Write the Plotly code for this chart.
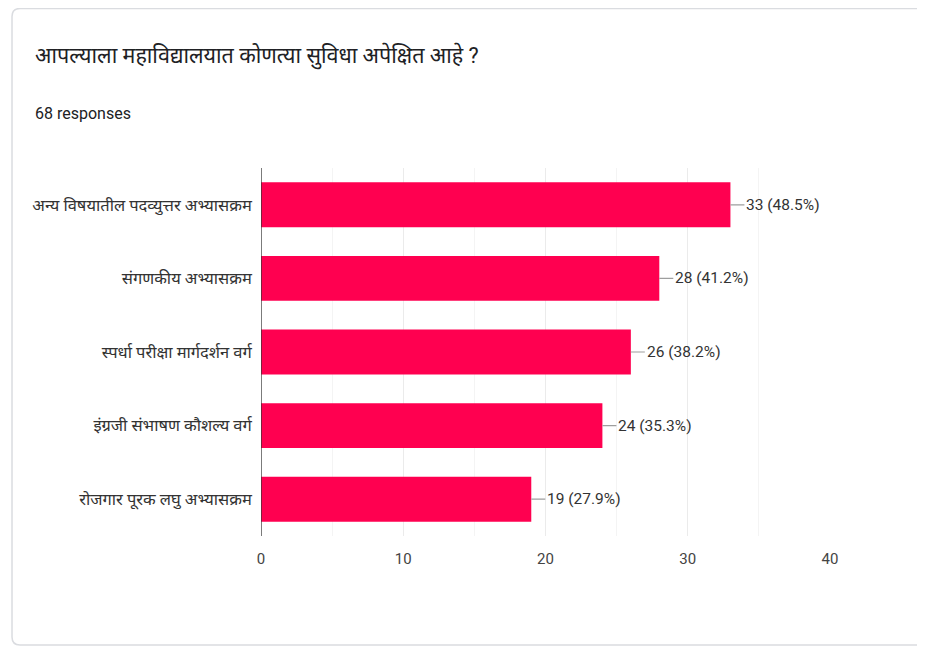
import plotly.graph_objects as go

categories = [
    "अन्य विषयातील पदव्युत्तर अभ्यासक्रम",
    "संगणकीय अभ्यासक्रम",
    "स्पर्धा परीक्षा मार्गदर्शन वर्ग",
    "इंग्रजी संभाषण कौशल्य वर्ग",
    "रोजगार पूरक लघु अभ्यासक्रम",
]
counts = [33, 28, 26, 24, 19]
percents = ["48.5%", "41.2%", "38.2%", "35.3%", "27.9%"]
x_ticks = [0, 10, 20, 30, 40]

title_text = "आपल्याला महाविद्यालयात कोणत्या सुविधा अपेक्षित आहे ?"
subtitle_text = "68 responses"

FONT = "Roboto, Noto Sans, sans-serif"
BAR = "#ff0050"

fig = go.Figure()
fig.add_trace(go.Bar(
    x=counts, y=categories, orientation="h",
    marker=dict(color=BAR, line=dict(width=0)),
    width=0.61, hoverinfo="skip",
))

for c, v, p in zip(categories, counts, percents):
    fig.add_annotation(
        x=v, y=c, xref="x", yref="y",
        text=f"{v} ({p})", showarrow=True, arrowhead=0, arrowwidth=1.2,
        arrowcolor="#9e9e9e", ax=14, ay=0, xanchor="left", yanchor="middle",
        font=dict(family=FONT, size=15.5, color="#333333"),
    )

fig.add_annotation(x=0, y=1, xref="paper", yref="paper", text=title_text, showarrow=False,
                   xanchor="left", yanchor="middle", xshift=-228, yshift=112,
                   font=dict(family=FONT, size=21.5, color="#202124"))
fig.add_annotation(x=0, y=1, xref="paper", yref="paper", text=subtitle_text, showarrow=False,
                   xanchor="left", yanchor="middle", xshift=-228, yshift=55,
                   font=dict(family=FONT, size=16, color="#202124"))

fig.update_layout(
    width=917, height=640,
    margin=dict(l=253, r=95, t=160, b=112),
    paper_bgcolor="white", plot_bgcolor="white",
    showlegend=False,
    font=dict(family=FONT, size=15, color="#444444"),
    xaxis=dict(range=[0, 40], tickvals=x_ticks, showgrid=True, gridcolor="#ebebeb",
               minor=dict(dtick=5, showgrid=True, gridcolor="#f4f4f4"),
               zeroline=False, showline=False, ticks="", ticklabelstandoff=12,
               tickfont=dict(family=FONT, size=15, color="#444444"), fixedrange=True),
    yaxis=dict(categoryorder="array", categoryarray=categories[::-1],
               showgrid=False, zeroline=False, showline=False, ticks="",
               ticksuffix="  ", tickfont=dict(family=FONT, size=16.5, color="#333333")),
)

# y axis line at x=0
fig.add_shape(type="line", xref="x", yref="paper", x0=0, x1=0, y0=0, y1=1,
              line=dict(color="#333333", width=1.3))

# card outline (rounded corners on the left)
x0, xr = -0.4376, 1.18
yt, yb = 1.4334, -0.2962
dx, dy = 8 / 569, 8 / 368
card_path = (f"M {xr},{yt} L {x0 + dx},{yt} Q {x0},{yt} {x0},{yt - dy} "
             f"L {x0},{yb + dy} Q {x0},{yb} {x0 + dx},{yb} L {xr},{yb}")
fig.add_shape(type="path", xref="paper", yref="paper", path=card_path,
              line=dict(color="#dadce0", width=1.5))

fig.write_html("out.html")
